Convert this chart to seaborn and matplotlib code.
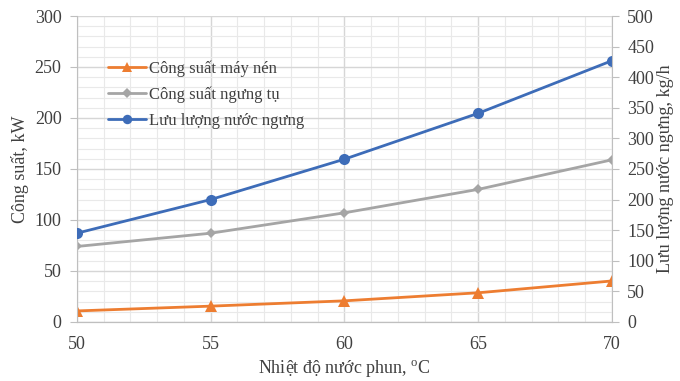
import pandas as pd
import matplotlib
matplotlib.use("Agg")
import matplotlib.pyplot as plt
import seaborn as sns
from matplotlib.ticker import MultipleLocator

# data
temp = [50, 55, 60, 65, 70]
cong_suat_may_nen = [10.8, 15.5, 20.7, 28.6, 40.2]
cong_suat_ngung_tu = [74, 87, 107, 130, 159]
luu_luong_nuoc_ngung = [145, 200, 266, 341, 427]

sns.set_style("white")
plt.rcParams["font.family"] = ["Liberation Serif", "DejaVu Serif"]
plt.rcParams["mathtext.fontset"] = "custom"
plt.rcParams["mathtext.rm"] = "Liberation Serif"

df = pd.DataFrame({
    "temp": temp,
    "may_nen": cong_suat_may_nen,
    "ngung_tu": cong_suat_ngung_tu,
    "luu_luong": luu_luong_nuoc_ngung,
})

grid_major = "#d6d6d6"
grid_minor = "#e9e9e9"
axis_col = "#bfbfbf"
text_col = "#404040"

fig, ax = plt.subplots(figsize=(6.8, 3.81), dpi=100)
fig.subplots_adjust(left=0.113, right=0.9, top=0.958, bottom=0.155)
ax2 = ax.twinx()

sns.lineplot(data=df, x="temp", y="may_nen", ax=ax, color="#ed7d31", marker="^",
             markersize=8, markeredgewidth=0, linewidth=2, label="Công suất máy nén")
sns.lineplot(data=df, x="temp", y="ngung_tu", ax=ax, color="#a5a5a5", marker="D",
             markersize=5.5, markeredgewidth=0, linewidth=2, label="Công suất ngưng tụ")
sns.lineplot(data=df, x="temp", y="luu_luong", ax=ax2, color="#3d6cb8", marker="o",
             markersize=8, markeredgewidth=0, linewidth=2, label="Lưu lượng nước ngưng")

ax.set_xlim(50, 70)
ax.set_ylim(0, 300)
ax2.set_ylim(0, 500)
ax.xaxis.set_major_locator(MultipleLocator(5))
ax.xaxis.set_minor_locator(MultipleLocator(1))
ax.yaxis.set_major_locator(MultipleLocator(50))
ax.yaxis.set_minor_locator(MultipleLocator(10))
ax2.yaxis.set_major_locator(MultipleLocator(50))

ax.grid(True, which="major", color=grid_major, linewidth=1)
ax.grid(True, which="minor", color=grid_minor, linewidth=0.8)
ax.set_axisbelow(True)
ax2.grid(False)

for a in (ax, ax2):
    for s in a.spines.values():
        s.set_visible(False)
    a.spines["bottom"].set_visible(True)
    a.spines["bottom"].set_color(axis_col)
ax.spines["left"].set_visible(True)
ax.spines["left"].set_color(axis_col)
ax2.spines["right"].set_visible(True)
ax2.spines["right"].set_color(axis_col)

ax.tick_params(axis="both", which="major", labelsize=13, colors=text_col,
               color=axis_col, length=5, direction="out")
ax.tick_params(axis="both", which="minor", length=0)
ax.tick_params(axis="y", pad=6)
ax.tick_params(axis="x", pad=5)
ax2.tick_params(axis="y", which="major", labelsize=13, colors=text_col,
                color=axis_col, length=5, pad=6)

ax.set_xlabel("Nhiệt độ nước phun, $^{\\mathrm{o}}$C", fontsize=13, color=text_col, labelpad=4)
ax.set_ylabel("Công suất, kW", fontsize=13, color=text_col, labelpad=4)
ax2.set_ylabel("Lưu lượng nước ngưng, kg/h", fontsize=13, color=text_col, labelpad=2)

# merge legends from both axes
ax.get_legend().remove()
ax2.get_legend().remove()
h1, l1 = ax.get_legend_handles_labels()
h2, l2 = ax2.get_legend_handles_labels()
leg = ax.legend(h1 + h2, l1 + l2, loc="upper left", bbox_to_anchor=(0.03, 0.905),
                frameon=False, fontsize=12, handlelength=2.3, handletextpad=0.15,
                labelspacing=0.6, labelcolor=text_col, markerscale=0.85)

fig.savefig("out.png", dpi=100)
